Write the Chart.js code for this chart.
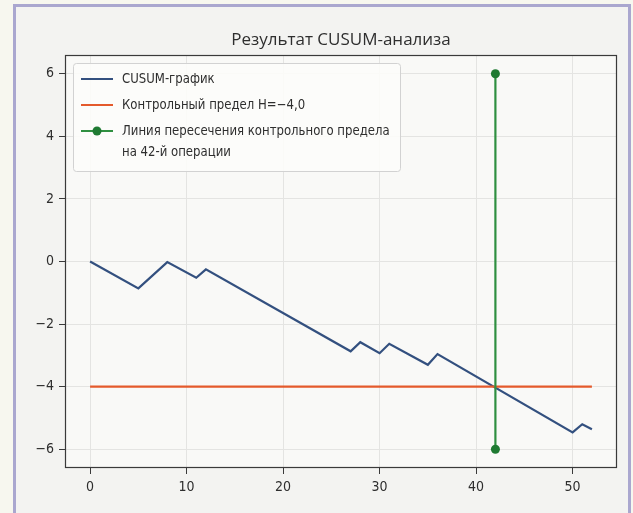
<!DOCTYPE html>
<html>
<head>
<meta charset="utf-8">
<script src="https://cdn.jsdelivr.net/npm/chart.js@4.4.1/dist/chart.umd.min.js"></script>
<style>
  html, body { margin: 0; padding: 0; background: #f7f7ef; }
  #wrap { position: relative; width: 633px; height: 513px; overflow: hidden; }
  #frame { position: absolute; left: 13px; top: 4px; width: 618px; height: 530px;
           border: 3px solid #aaa7cf; background: #f3f3f1; box-sizing: border-box; }
  #c { position: absolute; left: 0; top: 0; }
</style>
</head>
<body>
<div id="wrap">
  <div id="frame"></div>
  <canvas id="c" width="633" height="513"></canvas>
</div>
<script>
// CUSUM curve: operation number of each vertex and the cumulative sum there
const chartTitle = 'Результат CUSUM-анализа';
const cusumLabel = 'CUSUM-график';
const limitLabel = 'Контрольный предел H=−4,0';
const crossLabel = ['Линия пересечения контрольного предела', 'на 42-й операции'];

const cusumOps  = [0, 5, 8, 11, 12, 27, 28, 30, 31, 35, 36, 50, 51, 52];
const cusumVals = [0, -0.86, -0.02, -0.52, -0.25, -2.87, -2.58, -2.93, -2.63, -3.3, -2.96, -5.46, -5.2, -5.36];

// control limit H = -4.0 across all operations
const limitOps  = [0, 52];
const limitVals = [-4, -4];

// vertical marker at the operation where the limit is crossed
const crossOps  = [42, 42];
const crossVals = [-6, 6];

const xTicks = [0, 10, 20, 30, 40, 50];
const yTicks = [-6, -4, -2, 0, 2, 4, 6];

const toPoints = (xs, ys) => xs.map((x, i) => ({ x: x, y: ys[i] }));

const COL_CUSUM = '#33507f';
const COL_LIMIT = '#e45a2c';
const COL_CROSS = '#2f8f40';
const COL_CROSS_PT = '#1f7a32';
const TEXT = '#2e2e2e';
const NARROW = "'Liberation Sans Narrow', 'DejaVu Sans Condensed', 'Roboto', sans-serif";

const fmt = v => (v < 0 ? '\u2212' + Math.abs(v) : String(v));

const plotBackground = {
  id: 'plotBackground',
  beforeDraw(chart) {
    const { ctx, chartArea: a } = chart;
    ctx.save();
    ctx.fillStyle = '#f9f9f7';
    ctx.fillRect(a.left, a.top, a.right - a.left, a.bottom - a.top);
    ctx.restore();
  }
};

// narrow text: draw with a slight horizontal squeeze
function narrowText(ctx, text, x, y, squeeze) {
  ctx.save();
  ctx.translate(x, y);
  ctx.scale(squeeze, 1);
  ctx.fillText(text, 0, 0);
  ctx.restore();
}

const plotFrameAndLegend = {
  id: 'plotFrameAndLegend',
  afterDraw(chart) {
    const { ctx, chartArea: a } = chart;
    ctx.save();
    // title, centred over the plot area
    ctx.fillStyle = TEXT;
    ctx.font = "17px 'Open Sans', sans-serif";
    ctx.textAlign = 'center';
    ctx.textBaseline = 'middle';
    ctx.fillText(chartTitle, (a.left + a.right) / 2, 40);

    // axes frame
    ctx.strokeStyle = '#3a3a3a';
    ctx.lineWidth = 1.2;
    ctx.strokeRect(a.left + 0.5, a.top + 0.5, a.right - a.left - 1, a.bottom - a.top - 1);

    // legend box
    const bx = a.left + 8, by = a.top + 8, bw = 327, bh = 108;
    ctx.fillStyle = 'rgba(252,252,250,0.9)';
    ctx.strokeStyle = '#d2d2d2';
    ctx.lineWidth = 1;
    ctx.beginPath();
    ctx.roundRect(bx + 0.5, by + 0.5, bw, bh, 3);
    ctx.fill();
    ctx.stroke();

    const hx0 = bx + 8, hx1 = bx + 40, tx = bx + 49;
    const rows = [
      { y: by + 16, color: COL_CUSUM, text: [cusumLabel], marker: false },
      { y: by + 42, color: COL_LIMIT, text: [limitLabel], marker: false },
      { y: by + 68, color: COL_CROSS, text: crossLabel, marker: true }
    ];
    ctx.font = '14px ' + NARROW;
    ctx.textBaseline = 'middle';
    ctx.textAlign = 'left';
    rows.forEach(r => {
      ctx.strokeStyle = r.color;
      ctx.lineWidth = 2;
      ctx.beginPath();
      ctx.moveTo(hx0, r.y);
      ctx.lineTo(hx1, r.y);
      ctx.stroke();
      if (r.marker) {
        ctx.fillStyle = COL_CROSS_PT;
        ctx.beginPath();
        ctx.arc((hx0 + hx1) / 2, r.y, 4.5, 0, Math.PI * 2);
        ctx.fill();
      }
      ctx.fillStyle = TEXT;
      r.text.forEach((t, i) => narrowText(ctx, t, tx, r.y + i * 21, 0.93));
    });
    ctx.restore();
  }
};

new Chart(document.getElementById('c'), {
  type: 'line',
  data: {
    datasets: [
      {
        label: cusumLabel,
        data: toPoints(cusumOps, cusumVals),
        borderColor: COL_CUSUM,
        borderWidth: 2.2,
        pointRadius: 0,
        tension: 0,
        order: 3
      },
      {
        label: limitLabel,
        data: toPoints(limitOps, limitVals),
        borderColor: COL_LIMIT,
        borderWidth: 2.2,
        pointRadius: 0,
        order: 2
      },
      {
        label: crossLabel.join(' '),
        data: toPoints(crossOps, crossVals),
        borderColor: COL_CROSS,
        borderWidth: 2.2,
        pointRadius: 4.5,
        pointBackgroundColor: COL_CROSS_PT,
        pointBorderColor: COL_CROSS_PT,
        pointBorderWidth: 0,
        order: 1
      }
    ]
  },
  options: {
    responsive: false,
    animation: false,
    devicePixelRatio: 1,
    layout: { padding: { left: 0, right: 16, top: 55, bottom: 0 } },
    plugins: {
      legend: { display: false },
      tooltip: { enabled: false },
      title: { display: false }
    },
    scales: {
      x: {
        type: 'linear',
        min: -2.6,
        max: 54.6,
        afterBuildTicks: axis => { axis.ticks = xTicks.map(v => ({ value: v })); },
        afterFit: axis => { axis.height = 45; },
        grid: { color: '#e4e4e2', lineWidth: 1, tickColor: '#3a3a3a', tickLength: 6 },
        border: { display: false },
        ticks: { color: TEXT, font: { family: NARROW, size: 14 }, padding: 5, callback: fmt, maxRotation: 0 }
      },
      y: {
        type: 'linear',
        min: -6.6,
        max: 6.6,
        afterBuildTicks: axis => { axis.ticks = yTicks.map(v => ({ value: v })); },
        afterFit: axis => { axis.width = 65; },
        grid: { color: '#e4e4e2', lineWidth: 1, tickColor: '#3a3a3a', tickLength: 6 },
        border: { display: false },
        ticks: { color: TEXT, font: { family: NARROW, size: 14 }, padding: 5, callback: fmt }
      }
    }
  },
  plugins: [plotBackground, plotFrameAndLegend]
});
</script>
</body>
</html>
